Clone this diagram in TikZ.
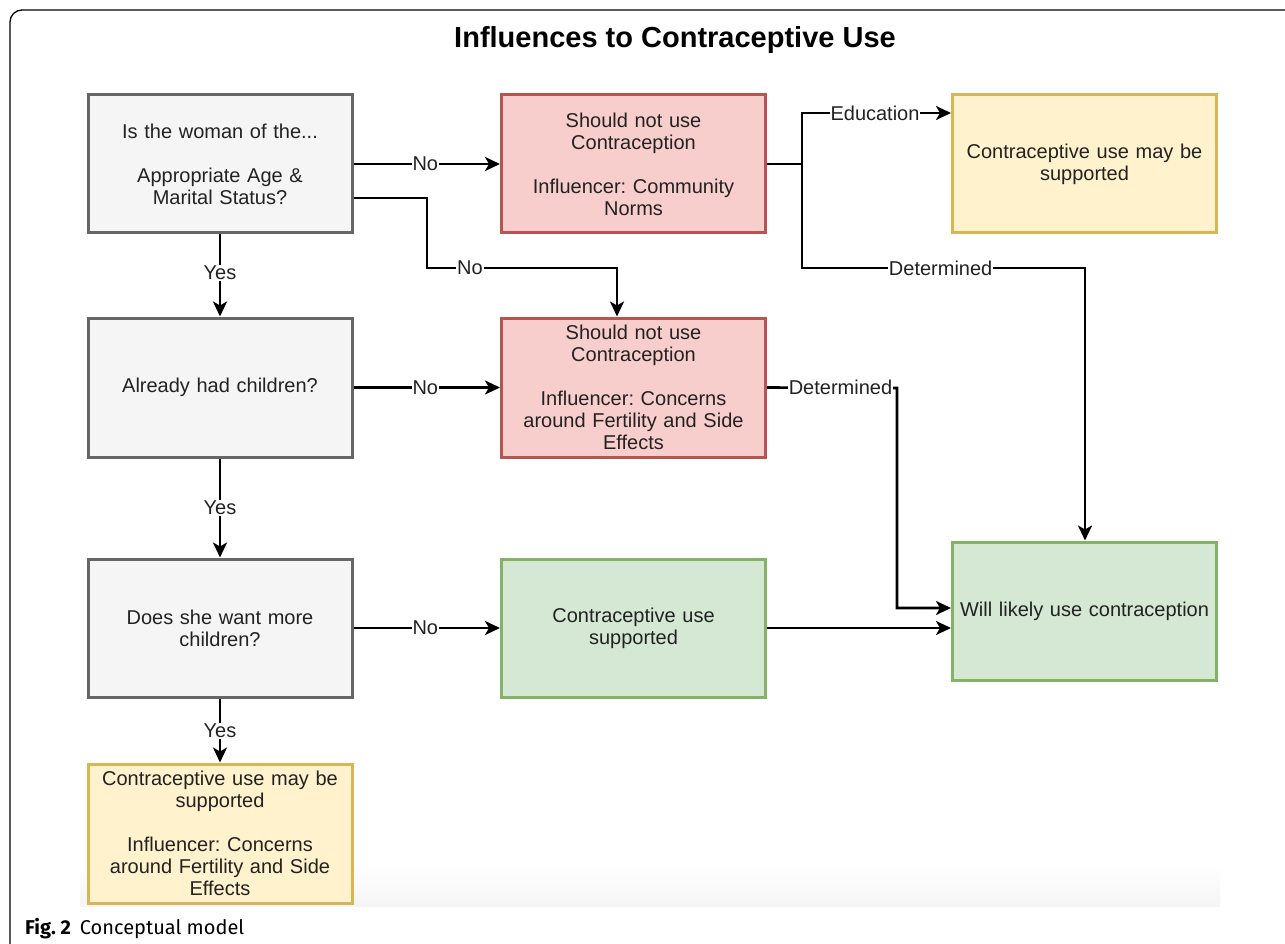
\documentclass[tikz,border=0pt]{standalone}
\usepackage{fontspec}
\setmainfont{Liberation Sans}
\newfontfamily\capfont{Fira Sans}
\usetikzlibrary{arrows.meta}
\definecolor{grayfill}{HTML}{F5F5F5}
\definecolor{graydraw}{HTML}{666666}
\definecolor{redfill}{HTML}{F8CECC}
\definecolor{reddraw}{HTML}{B85450}
\definecolor{yelfill}{HTML}{FFF2CC}
\definecolor{yeldraw}{HTML}{D6B656}
\definecolor{grnfill}{HTML}{D5E8D4}
\definecolor{grndraw}{HTML}{82B366}
\definecolor{txt}{HTML}{222222}
\frenchspacing
\begin{document}
\begin{tikzpicture}[x=1pt,y=-1pt,
  box/.style={draw, line width=3pt, minimum width=264pt, minimum height=138pt,
    align=center, inner sep=0pt, text width=255pt, text=txt,
    font=\fontsize{20}{22}\selectfont},
  graybox/.style={box, fill=grayfill, draw=graydraw},
  redbox/.style={box, fill=redfill, draw=reddraw},
  yelbox/.style={box, fill=yelfill, draw=yeldraw},
  grnbox/.style={box, fill=grnfill, draw=grndraw},
  arr/.style={line width=2.6pt, -{Stealth[length=15pt,width=14pt,inset=4pt]}},
  lbl/.style={fill=white, inner sep=1pt, text=txt, font=\fontsize{20}{22}\selectfont}
]
\useasboundingbox (0,0) rectangle (1285,944);
\fill[white] (0,0) rectangle (1285,944);
% outer frame
\draw[line width=1.3pt, rounded corners=12pt] (10,950) -- (10,10) -- (1295,10);
% faint strip
\shade[top color=white, bottom color=black!4] (80,865) rectangle (1220,906);
% title
\node[font=\fontsize{29}{32}\selectfont\bfseries] (title) at (675,40) {Influences to Contraceptive Use};
% boxes
\node[graybox] (A) at (220,164) {Is the woman of the...\\[22pt]Appropriate Age \&\\Marital Status?};
\node[redbox] (B) at (633.5,164) {Should not use\\Contraception\\[22pt]Influencer: Community\\Norms};
\node[yelbox] (C) at (1084.5,164) {Contraceptive use may be\\supported};
\node[graybox, minimum height=139pt] (D) at (220,387.5) {Already had children?};
\node[redbox, minimum height=139pt] (E) at (633.5,387.5) {Should not use\\Contraception\\[22pt]Influencer: Concerns\\around Fertility and Side\\Effects};
\node[graybox] (F) at (220,628) {Does she want more\\children?};
\node[grnbox] (G) at (633.5,628) {Contraceptive use\\supported};
\node[grnbox] (H) at (1084.5,611) {Will likely use contraception};
\node[yelbox, minimum height=139pt] (I) at (220,833.5) {Contraceptive use may be\\supported\\[22pt]Influencer: Concerns\\around Fertility and Side\\Effects};
% connectors
\draw[arr] (A.east) -- node[lbl,pos=0.49]{No} (B.west);
\draw[arr] (A.east |- 0,198) -- (427,198) -- (427,268) -- node[lbl,pos=0.226]{No} (617,268) -- (E.north -| 617,0);
\draw[arr] (A.south) -- node[lbl,pos=0.47]{Yes} (D.north);
\draw[arr] (D.east) -- node[lbl,pos=0.49]{No} (E.west);
\draw[arr] (D.south) -- node[lbl,pos=0.5]{Yes} (F.north);
\draw[arr] (F.east) -- node[lbl,pos=0.49]{No} (G.west);
\draw[arr] (F.south) -- node[lbl,pos=0.51]{Yes} (I.north);
\draw[arr] (B.east) -- (802,164) -- (802,113) -- node[lbl,pos=0.49]{Education} (C.west |- 0,113);
\draw[arr] (B.east) -- (802,164) -- (802,268) -- node[lbl,pos=0.49]{Determined} (1085,268) -- (H.north -| 1085,0);
\draw[arr] (E.east) -- node[lbl,pos=0.565]{Determined} (897,388) -- (897,608) -- (H.west |- 0,608);
\draw[arr] (G.east) -- (H.west |- 0,628);
% caption
\node[anchor=base west, inner sep=0pt, font=\capfont\fontsize{20}{22}\selectfont] (cap) at (25,934) {\textbf{Fig. 2}\hspace{0.45em}Conceptual model};
\end{tikzpicture}
\end{document}
